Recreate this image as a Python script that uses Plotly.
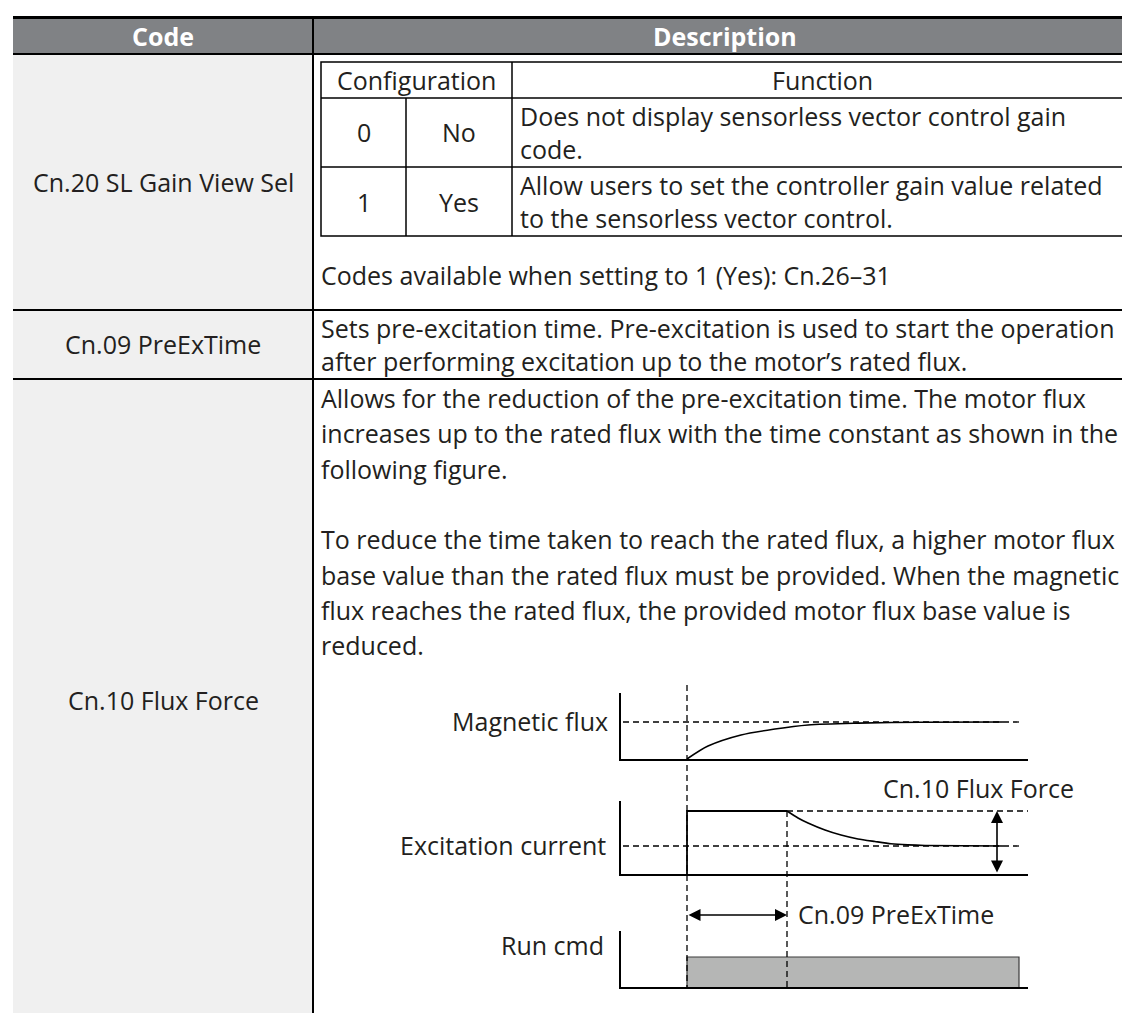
import plotly.graph_objects as go

# ---------------- data ----------------
header_labels = ["Code", "Description"]
code_labels = ["Cn.20 SL Gain View Sel", "Cn.09 PreExTime", "Cn.10 Flux Force"]

config_header = ["Configuration", "Function"]
config_values = ["0", "1"]
config_names = ["No", "Yes"]
config_functions = [
    ["Does not display sensorless vector control gain", "code."],
    ["Allow users to set the controller gain value related", "to the sensorless vector control."],
]
cn20_footer = "Codes available when setting to 1 (Yes): Cn.26\u201331"
cn09_lines = [
    "Sets pre-excitation time. Pre-excitation is used to start the operation",
    "after performing excitation up to the motor\u2019s rated flux.",
]
cn10_lines = [
    "Allows for the reduction of the pre-excitation time. The motor flux",
    "increases up to the rated flux with the time constant as shown in the",
    "following figure.",
    "",
    "To reduce the time taken to reach the rated flux, a higher motor flux",
    "base value than the rated flux must be provided. When the magnetic",
    "flux reaches the rated flux, the provided motor flux base value is",
    "reduced.",
]

# timing diagram (time units, levels relative to rated = 1)
diagram_labels = ["Magnetic flux", "Excitation current", "Run cmd"]
t_axis_end = 40.7
t_run_start = 6.6
t_preex_end = 16.6
t_run_end = 39.8
t_dash_start = 0.2
t_dash_end = 39.9
t_force_arrow = 37.6

flux_t = [6.6, 8.7, 12.0, 15.4, 18.7, 23.7, 30.0, 38.2]
flux_v = [0.0, 0.35, 0.65, 0.81, 0.92, 0.97, 0.995, 1.0]
flux_rated = 1.0
flux_top = 1.784

exc_step_t = [6.6, 6.6, 16.6]
exc_step_v = [0.0, 2.25, 2.25]
exc_decay_t = [16.6, 17.7, 18.7, 20.4, 22.0, 23.7, 25.4, 27.0, 28.7, 30.4, 38.2]
exc_decay_v = [2.25, 2.0, 1.82, 1.57, 1.39, 1.25, 1.16, 1.08, 1.04, 1.02, 1.0]
exc_rated = 1.0
exc_force = 2.25
exc_top = 2.607

run_level = 1.0
run_top = 1.867

force_label = "Cn.10 Flux Force"
preex_label = "Cn.09 PreExTime"

# ---------------- layout helpers ----------------
W, H = 1130, 1013
FONT = "Open Sans"
FS = 25
TXT = "#231f20"


def fx(x):
    return x / W


def fy(y):
    return 1 - y / H


shapes = []
annotations = []


def rect(x0, y0, x1, y1, fill, line=None, lw=0):
    shapes.append(dict(type="rect", xref="paper", yref="paper",
                       x0=fx(x0), x1=fx(x1), y0=fy(y0), y1=fy(y1),
                       fillcolor=fill, line=dict(color=line or fill, width=lw),
                       layer="below"))


def hline(x0, x1, y, w=2, color="black"):
    shapes.append(dict(type="line", xref="paper", yref="paper",
                       x0=fx(x0), x1=fx(x1), y0=fy(y), y1=fy(y),
                       line=dict(color=color, width=w)))


def vline(x, y0, y1, w=2, color="black"):
    shapes.append(dict(type="line", xref="paper", yref="paper",
                       x0=fx(x), x1=fx(x), y0=fy(y0), y1=fy(y1),
                       line=dict(color=color, width=w)))


def text(s, x, y, anchor="left", bold=False, color=TXT, size=FS, align="left"):
    annotations.append(dict(text=f"<b>{s}</b>" if bold else s,
                            xref="paper", yref="paper", x=fx(x), y=fy(y),
                            xanchor=anchor, yanchor="middle", showarrow=False,
                            align=align,
                            font=dict(family=FONT, size=size, color=color)))


# ---------------- outer table ----------------
rect(5, 10, W, 46, "#808285")
rect(5, 47, 305, H, "#f0f0f0")
hline(5, W, 9.5, w=3)
hline(5, W, 46, w=2)
vline(305, 8, H, w=2)
hline(5, W, 302, w=2)
hline(5, W, 371, w=2)

text(header_labels[0], 155, 28, anchor="center", bold=True, color="white")
text(header_labels[1], 717, 28, anchor="center", bold=True, color="white")

code_centers = [174, 336, 692]
for lab, yc in zip(code_labels, code_centers):
    text(lab, 155, yc, anchor="center")

# ---------------- inner configuration table ----------------
shapes.append(dict(type="rect", xref="paper", yref="paper",
                   x0=fx(313), x1=fx(1125), y0=fy(54), y1=fy(228),
                   fillcolor="rgba(0,0,0,0)", line=dict(color="black", width=1.5)))
hline(313, 1125, 90, w=1.5)
hline(313, 1125, 159, w=1.5)
vline(504, 54, 228, w=1.5)
vline(398, 90, 228, w=1.5)

text(config_header[0], 408, 72, anchor="center")
text(config_header[1], 814, 72, anchor="center")
row_mid = [124.5, 193.5]
for v, n, fn, ym in zip(config_values, config_names, config_functions, row_mid):
    text(v, 355.5, ym, anchor="center")
    text(n, 451, ym, anchor="center")
    text("<br>".join(fn), 510, ym)

text(cn20_footer, 311, 267)

for s, yy in zip(cn09_lines, [320, 353]):
    text(s, 311, yy)

for i, s in enumerate(cn10_lines):
    if s:
        text(s, 311, 390 + i * 35.3)

# ---------------- timing diagram ----------------
label_pos = [(602, 713), (600, 837), (598, 937)]
for lab, (xx, yy) in zip(diagram_labels, label_pos):
    text(lab, xx, yy, anchor="right")
text(force_label, 873, 780)
text(preex_label, 788, 906)

fig = go.Figure()
dash = "6px,4px"

# panel 1: magnetic flux
fig.add_trace(go.Scatter(x=[t_dash_start, t_dash_end], y=[flux_rated, flux_rated],
                         mode="lines", line=dict(color="black", width=1.3, dash=dash),
                         xaxis="x", yaxis="y", hoverinfo="skip"))
fig.add_trace(go.Scatter(x=flux_t, y=flux_v, mode="lines",
                         line=dict(color="black", width=1.6, shape="spline", smoothing=0.8),
                         xaxis="x", yaxis="y", hoverinfo="skip"))

# panel 2: excitation current
fig.add_trace(go.Scatter(x=[t_dash_start, t_dash_end], y=[exc_rated, exc_rated],
                         mode="lines", line=dict(color="black", width=1.3, dash=dash),
                         xaxis="x2", yaxis="y2", hoverinfo="skip"))
fig.add_trace(go.Scatter(x=[t_preex_end, t_axis_end], y=[exc_force, exc_force],
                         mode="lines", line=dict(color="black", width=1.3, dash=dash),
                         xaxis="x2", yaxis="y2", hoverinfo="skip"))
fig.add_trace(go.Scatter(x=exc_step_t, y=exc_step_v, mode="lines",
                         line=dict(color="black", width=1.8),
                         xaxis="x2", yaxis="y2", hoverinfo="skip"))
fig.add_trace(go.Scatter(x=exc_decay_t, y=exc_decay_v, mode="lines",
                         line=dict(color="black", width=1.6, shape="spline", smoothing=0.6),
                         xaxis="x2", yaxis="y2", hoverinfo="skip"))

# panel 3: run command
fig.add_trace(go.Scatter(x=[t_run_start, t_run_start, t_run_end, t_run_end],
                         y=[0, run_level, run_level, 0], mode="lines",
                         fill="toself", fillcolor="#b5b6b5",
                         line=dict(color="#3a3a3a", width=1.2),
                         xaxis="x3", yaxis="y3", hoverinfo="skip"))

# vertical guide lines crossing the panels
shapes.append(dict(type="line", xref="x", yref="paper", x0=t_run_start, x1=t_run_start,
                   y0=fy(677), y1=fy(979), line=dict(color="black", width=1.3, dash=dash)))
shapes.append(dict(type="line", xref="x", yref="paper", x0=t_preex_end, x1=t_preex_end,
                   y0=fy(803), y1=fy(979), line=dict(color="black", width=1.3, dash=dash)))

# arrows
annotations.append(dict(text="", xref="x3", yref="paper", x=t_preex_end, y=fy(907),
                        axref="x3", ayref="pixel", ax=t_run_start, ay=0,
                        showarrow=True, arrowside="end+start", arrowhead=2,
                        arrowsize=1.5, arrowwidth=1.6, arrowcolor="black",
                        standoff=0, startstandoff=0))
annotations.append(dict(text="", xref="x2", yref="y2", x=t_force_arrow, y=exc_force,
                        axref="x2", ayref="y2", ax=t_force_arrow, ay=0,
                        showarrow=True, arrowside="end+start", arrowhead=2,
                        arrowsize=1.5, arrowwidth=1.6, arrowcolor="black",
                        standoff=0, startstandoff=0))

ax_common = dict(showline=True, linecolor="black", linewidth=2, showgrid=False,
                 zeroline=False, showticklabels=False, ticks="", fixedrange=True)
xdom = [fx(613), fx(1020)]

fig.update_layout(
    width=W, height=H, margin=dict(l=0, r=0, t=0, b=0),
    paper_bgcolor="white", plot_bgcolor="rgba(0,0,0,0)", showlegend=False,
    xaxis=dict(domain=xdom, range=[0, t_axis_end], anchor="y", **ax_common),
    yaxis=dict(domain=[fy(751), fy(685)], range=[0, flux_top], anchor="x", **ax_common),
    xaxis2=dict(domain=xdom, range=[0, t_axis_end], anchor="y2", **ax_common),
    yaxis2=dict(domain=[fy(866), fy(793)], range=[0, exc_top], anchor="x2", **ax_common),
    xaxis3=dict(domain=xdom, range=[0, t_axis_end], anchor="y3", **ax_common),
    yaxis3=dict(domain=[fy(979), fy(923)], range=[0, run_top], anchor="x3", **ax_common),
    shapes=shapes, annotations=annotations,
)

fig.write_html("out.html", config={"displayModeBar": False})
